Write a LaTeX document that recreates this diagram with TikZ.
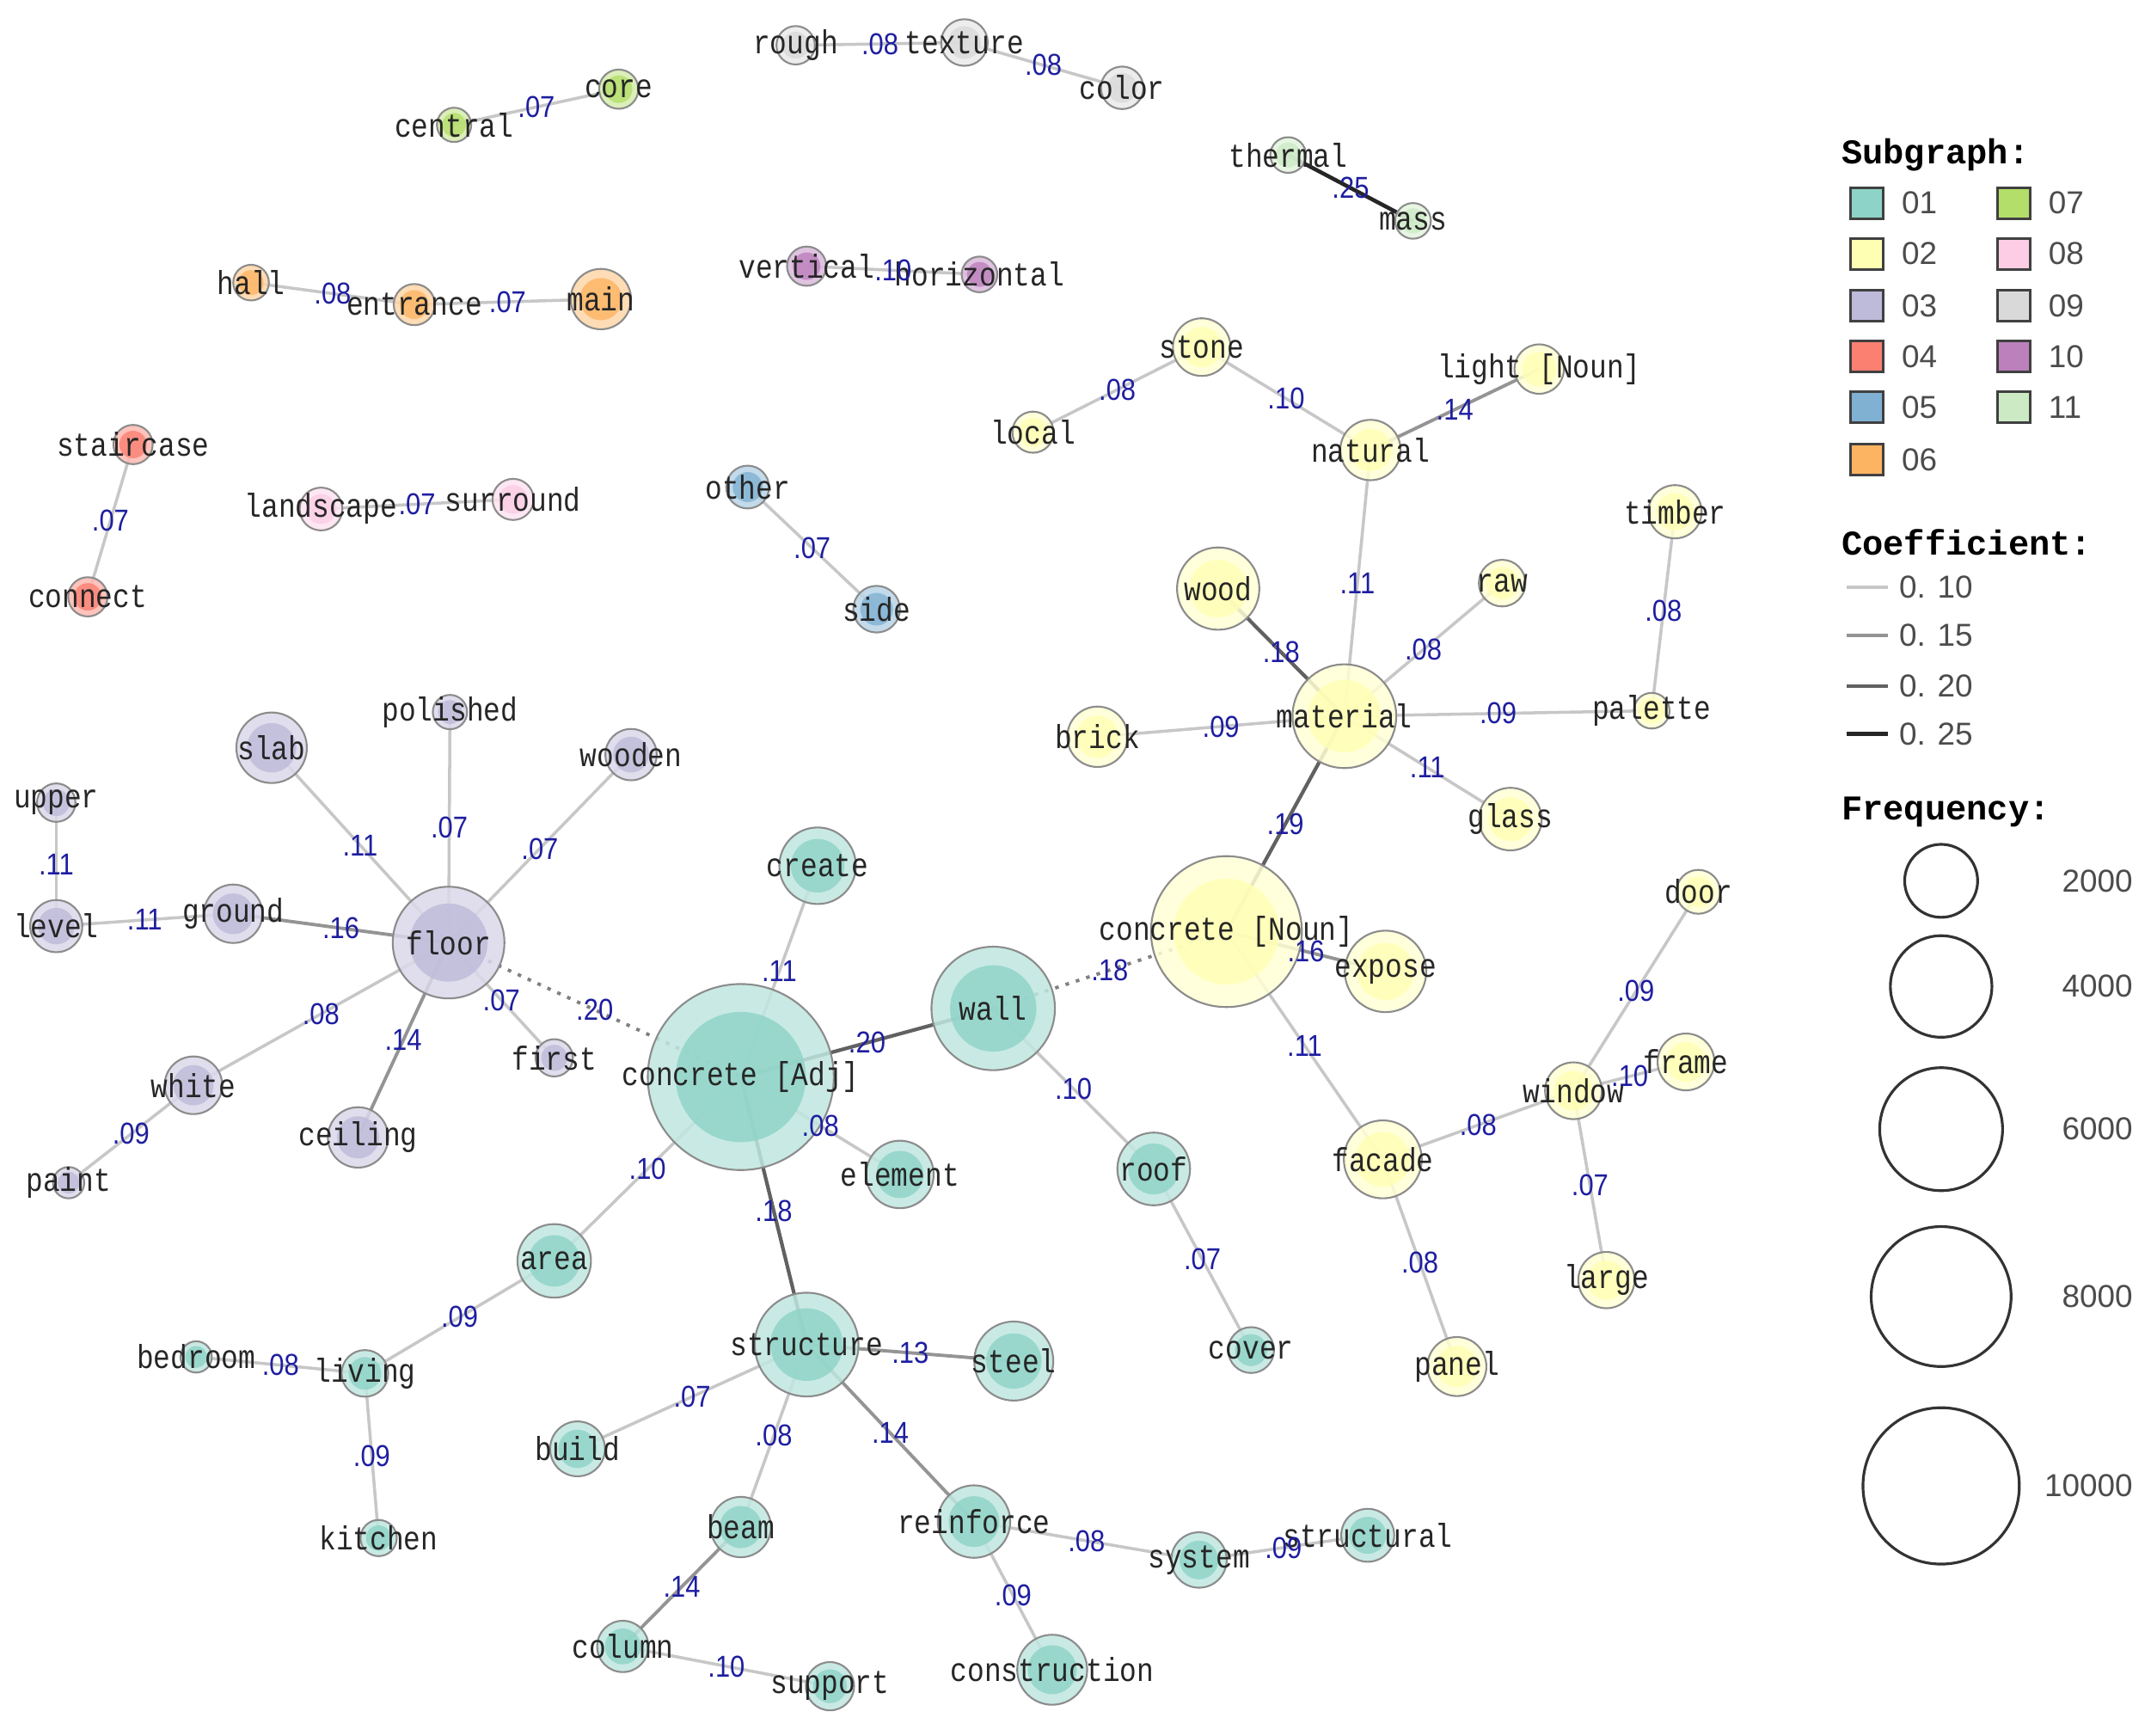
\documentclass[tikz,border=0pt]{standalone}
\usepackage{fontspec}
\usepackage{tikz}
\usetikzlibrary{positioning}

\newfontfamily\wordfont[FakeStretch=0.85]{Liberation Mono}
\newfontfamily\coeffont[FakeStretch=0.88]{Liberation Sans}
\newfontfamily\keyfont{Liberation Sans}
\newfontfamily\headfont{Liberation Mono}

\definecolor{c01}{HTML}{8DD3C7}
\definecolor{c02}{HTML}{FFFFB3}
\definecolor{c03}{HTML}{BEBADA}
\definecolor{c04}{HTML}{FB8072}
\definecolor{c05}{HTML}{80B1D3}
\definecolor{c06}{HTML}{FDB462}
\definecolor{c07}{HTML}{B3DE69}
\definecolor{c08}{HTML}{FCCDE5}
\definecolor{c09}{HTML}{D9D9D9}
\definecolor{c10}{HTML}{BC80BD}
\definecolor{c11}{HTML}{CCEBC5}
\definecolor{coefblue}{RGB}{30,30,160}

\pgfdeclarelayer{edges}
\pgfdeclarelayer{bubbles}
\pgfsetlayers{edges,bubbles,main}

\tikzset{
  wtext/.style={inner sep=0pt, text=black!85, font=\wordfont\fontsize{11}{11}\selectfont},
  coef/.style={inner sep=0pt, text=coefblue, font=\coeffont\fontsize{10}{10}\selectfont},
  e1/.style={draw=black!22, line width=1pt},
  e2/.style={draw=black!42, line width=1.1pt},
  e3/.style={draw=black!62, line width=1.2pt},
  e4/.style={draw=black!85, line width=1.3pt},
  ed/.style={draw=black!50, line width=1.1pt, dash pattern=on 1.2pt off 2.4pt},
  head/.style={anchor=west, inner sep=0pt, font=\headfont\bfseries\fontsize{11.5}{11.5}\selectfont},
  key/.style={rectangle, draw=black!75, line width=.9pt, minimum width=.38cm, minimum height=.36cm, inner sep=0pt},
  keytxt/.style={anchor=west, inner sep=0pt, text=black!70, font=\keyfont\fontsize{10.5}{10.5}\selectfont},
  fq/.style={circle, draw=black!80, line width=.9pt, inner sep=0pt},
}

% word node: name, position, radius, colour, text
\newcommand{\wnode}[5]{%
  \node[wtext] (#1) at (#2) {#5};
  \begin{pgfonlayer}{bubbles}
    \fill[#4!55!white, fill opacity=.85] (#1.center) circle[radius=#3];
    \fill[#4, fill opacity=.8] (#1.center) circle[radius=.7*#3];
    \draw[black!45, line width=.6pt] (#1.center) circle[radius=#3];
  \end{pgfonlayer}}

% co-occurrence edge: style, from, to, coefficient
\newcommand{\cooc}[4][e1]{%
  \begin{pgfonlayer}{edges}
    \draw[#1] (#2.center) -- (#3.center);
  \end{pgfonlayer}
  \path (#2.center) -- node[coef] (#2-#3) {#4} (#3.center);}

\begin{document}
\begin{tikzpicture}[x=0.015957cm, y=-0.015957cm]

\useasboundingbox (0,0) rectangle (1568,1265);
\begin{pgfonlayer}{edges}
\fill[white] (0,0) rectangle (1568,1265);
\end{pgfonlayer}

% small subgraphs
\wnode{rough}{580,33}{14}{c09}{rough}
\wnode{texture}{703,31}{17}{c09}{texture}
\wnode{color}{818,64}{15.5}{c09}{color}
\wnode{central}{331,91}{12.5}{c07}{central}
\wnode{core}{451,65}{14.3}{c07}{core}
\wnode{thermal}{939,113}{13}{c11}{thermal}
\wnode{mass}{1030,161}{13}{c11}{mass}
\wnode{hall}{183,206}{13}{c06}{hall}
\wnode{entrance}{302,222}{15}{c06}{entrance}
\wnode{main}{438,218}{22}{c06}{main}
\wnode{vertical}{588,194}{14.3}{c10}{vertical}
\wnode{horizontal}{714,200}{13}{c10}{horizontal}
\wnode{staircase}{97,324}{14.3}{c04}{staircase}
\wnode{connect}{64,435}{14.3}{c04}{connect}
\wnode{landscape}{234,371}{15.6}{c08}{landscape}
\wnode{surround}{374,364}{15}{c08}{surround}
\wnode{other}{545,355}{15.6}{c05}{other}
\wnode{side}{639,444}{17}{c05}{side}

% subgraph 02
\wnode{local}{753,315}{15}{c02}{local}
\wnode{stone}{876,253}{21}{c02}{stone}
\wnode{light}{1122,269}{18}{c02}{light [Noun]}
\wnode{natural}{999,328}{22}{c02}{natural}
\wnode{timber}{1221,373}{19.4}{c02}{timber}
\wnode{wood}{888,429}{30}{c02}{wood}
\wnode{raw}{1095,425}{17}{c02}{raw}
\wnode{material}{980,522}{37.8}{c02}{material}
\wnode{brick}{800,537}{22}{c02}{brick}
\wnode{palette}{1204,518}{13}{c02}{palette}
\wnode{glass}{1101,597}{22.8}{c02}{glass}
\wnode{concN}{894,679}{55}{c02}{concrete [Noun]}
\wnode{expose}{1010,708}{29.7}{c02}{expose}
\wnode{door}{1238,650}{16}{c02}{door}
\wnode{frame}{1229,774}{20.7}{c02}{frame}
\wnode{window}{1147,795}{20.7}{c02}{window}
\wnode{facade}{1008,845}{28.4}{c02}{facade}
\wnode{large}{1171,933}{20.5}{c02}{large}
\wnode{panel}{1062,996}{21.5}{c02}{panel}

% subgraph 01
\wnode{concA}{540,785}{67.8}{c01}{concrete [Adj]}
\wnode{wall}{724,735}{45}{c01}{wall}
\wnode{create}{596,631}{27.9}{c01}{create}
\wnode{element}{656,856}{24.6}{c01}{element}
\wnode{roof}{841,852}{26.5}{c01}{roof}
\wnode{cover}{912,984}{16.7}{c01}{cover}
\wnode{structure}{588,980}{37.8}{c01}{structure}
\wnode{steel}{739,992}{28.8}{c01}{steel}
\wnode{area}{404,919}{26.8}{c01}{area}
\wnode{living}{266,1001}{17}{c01}{living}
\wnode{bedroom}{143,989}{11.4}{c01}{bedroom}
\wnode{kitchen}{276,1121}{13.2}{c01}{kitchen}
\wnode{build}{421,1056}{20}{c01}{build}
\wnode{beam}{540,1113}{22}{c01}{beam}
\wnode{column}{454,1200}{18.7}{c01}{column}
\wnode{support}{605,1229}{17.6}{c01}{support}
\wnode{reinforce}{710,1109}{26.4}{c01}{reinforce}
\wnode{system}{874,1137}{20.2}{c01}{system}
\wnode{structural}{997,1119}{19.3}{c01}{structural}
\wnode{construction}{767,1217}{25.5}{c01}{construction}

% subgraph 03
\wnode{floor}{327,687}{40.7}{c03}{floor}
\wnode{slab}{198,545}{25.7}{c03}{slab}
\wnode{polished}{328,519}{12.5}{c03}{polished}
\wnode{wooden}{460,550}{18.7}{c03}{wooden}
\wnode{upper}{41,585}{14}{c03}{upper}
\wnode{level}{41,675}{19}{c03}{level}
\wnode{ground}{170,666}{21.3}{c03}{ground}
\wnode{first}{404,771}{13.6}{c03}{first}
\wnode{white}{141,791}{21}{c03}{white}
\wnode{ceiling}{261,829}{22}{c03}{ceiling}
\wnode{paint}{50,862}{11.4}{c03}{paint}

% edges
\cooc{rough}{texture}{.08}
\cooc{texture}{color}{.08}
\cooc{central}{core}{.07}
\cooc[e4]{thermal}{mass}{.25}
\cooc{hall}{entrance}{.08}
\cooc{entrance}{main}{.07}
\cooc{vertical}{horizontal}{.10}
\cooc{staircase}{connect}{.07}
\cooc{landscape}{surround}{.07}
\cooc{other}{side}{.07}

\cooc{local}{stone}{.08}
\cooc{stone}{natural}{.10}
\cooc[e2]{natural}{light}{.14}
\cooc{natural}{material}{.11}
\cooc[e3]{wood}{material}{.18}
\cooc{raw}{material}{.08}
\cooc{timber}{palette}{.08}
\cooc{brick}{material}{.09}
\cooc{material}{palette}{.09}
\cooc{material}{glass}{.11}
\cooc[e3]{material}{concN}{.19}
\cooc[e2]{concN}{expose}{.16}
\cooc{concN}{facade}{.11}
\cooc{door}{window}{.09}
\cooc{window}{frame}{.10}
\cooc{facade}{window}{.08}
\cooc{window}{large}{.07}
\cooc{facade}{panel}{.08}

\cooc[ed]{wall}{concN}{.18}
\cooc[e3]{concA}{wall}{.20}
\cooc{wall}{roof}{.10}
\cooc{roof}{cover}{.07}
\cooc{concA}{create}{.11}
\cooc{concA}{element}{.08}
\cooc[e3]{concA}{structure}{.18}
\cooc{concA}{area}{.10}
\cooc{area}{living}{.09}
\cooc{bedroom}{living}{.08}
\cooc{living}{kitchen}{.09}
\cooc[e2]{structure}{steel}{.13}
\cooc{structure}{build}{.07}
\cooc{structure}{beam}{.08}
\cooc[e2]{structure}{reinforce}{.14}
\cooc[e2]{beam}{column}{.14}
\cooc{column}{support}{.10}
\cooc{reinforce}{system}{.08}
\cooc{system}{structural}{.09}
\cooc{reinforce}{construction}{.09}

\cooc[ed]{floor}{concA}{.20}
\cooc{floor}{slab}{.11}
\cooc{floor}{polished}{.07}
\cooc{floor}{wooden}{.07}
\cooc{upper}{level}{.11}
\cooc{level}{ground}{.11}
\cooc[e2]{ground}{floor}{.16}
\cooc{floor}{first}{.07}
\cooc{floor}{white}{.08}
\cooc[e2]{floor}{ceiling}{.14}
\cooc{white}{paint}{.09}

% legend: subgraph
\node[head] (hsub) at (1342,113) {Subgraph:};
\node[key, fill=c01] (k01) at (1361,148) {};
\node[key, fill=c02] (k02) at (1361,185) {};
\node[key, fill=c03] (k03) at (1361,223) {};
\node[key, fill=c04] (k04) at (1361,260) {};
\node[key, fill=c05] (k05) at (1361,297) {};
\node[key, fill=c06] (k06) at (1361,335) {};
\node[key, fill=c07] (k07) at (1468,148) {};
\node[key, fill=c08] (k08) at (1468,185) {};
\node[key, fill=c09] (k09) at (1468,223) {};
\node[key, fill=c10] (k10) at (1468,260) {};
\node[key, fill=c11] (k11) at (1468,297) {};
\node[keytxt, right=0.19cm of k01] (t01) {01};
\node[keytxt, right=0.19cm of k02] (t02) {02};
\node[keytxt, right=0.19cm of k03] (t03) {03};
\node[keytxt, right=0.19cm of k04] (t04) {04};
\node[keytxt, right=0.19cm of k05] (t05) {05};
\node[keytxt, right=0.19cm of k06] (t06) {06};
\node[keytxt, right=0.19cm of k07] (t07) {07};
\node[keytxt, right=0.19cm of k08] (t08) {08};
\node[keytxt, right=0.19cm of k09] (t09) {09};
\node[keytxt, right=0.19cm of k10] (t10) {10};
\node[keytxt, right=0.19cm of k11] (t11) {11};

% legend: coefficient
\node[head] (hcoef) at (1342,395) {Coefficient:};
\coordinate (c1a) at (1346,428); \coordinate (c1b) at (1376,428);
\coordinate (c2a) at (1346,463); \coordinate (c2b) at (1376,463);
\coordinate (c3a) at (1346,500); \coordinate (c3b) at (1376,500);
\coordinate (c4a) at (1346,535); \coordinate (c4b) at (1376,535);
\draw[e1] (c1a) -- (c1b);
\draw[e2] (c2a) -- (c2b);
\draw[e3] (c3a) -- (c3b);
\draw[e4] (c4a) -- (c4b);
\node[keytxt] (tc1) at (1384,428) {0. 10};
\node[keytxt] (tc2) at (1384,463) {0. 15};
\node[keytxt] (tc3) at (1384,500) {0. 20};
\node[keytxt] (tc4) at (1384,535) {0. 25};

% legend: frequency
\node[head] (hfreq) at (1342,592) {Frequency:};
\node[fq, minimum size=0.849cm] (f1) at (1415,642) {};
\node[fq, minimum size=1.181cm] (f2) at (1415,719) {};
\node[fq, minimum size=1.430cm] (f3) at (1415,823) {};
\node[fq, minimum size=1.628cm] (f4) at (1415,945) {};
\node[fq, minimum size=1.819cm] (f5) at (1415,1083) {};
\node[keytxt, anchor=east] (tf1) at (1555,642) {2000};
\node[keytxt, anchor=east] (tf2) at (1555,719) {4000};
\node[keytxt, anchor=east] (tf3) at (1555,823) {6000};
\node[keytxt, anchor=east] (tf4) at (1555,945) {8000};
\node[keytxt, anchor=east] (tf5) at (1555,1083) {10000};

\end{tikzpicture}
\end{document}
